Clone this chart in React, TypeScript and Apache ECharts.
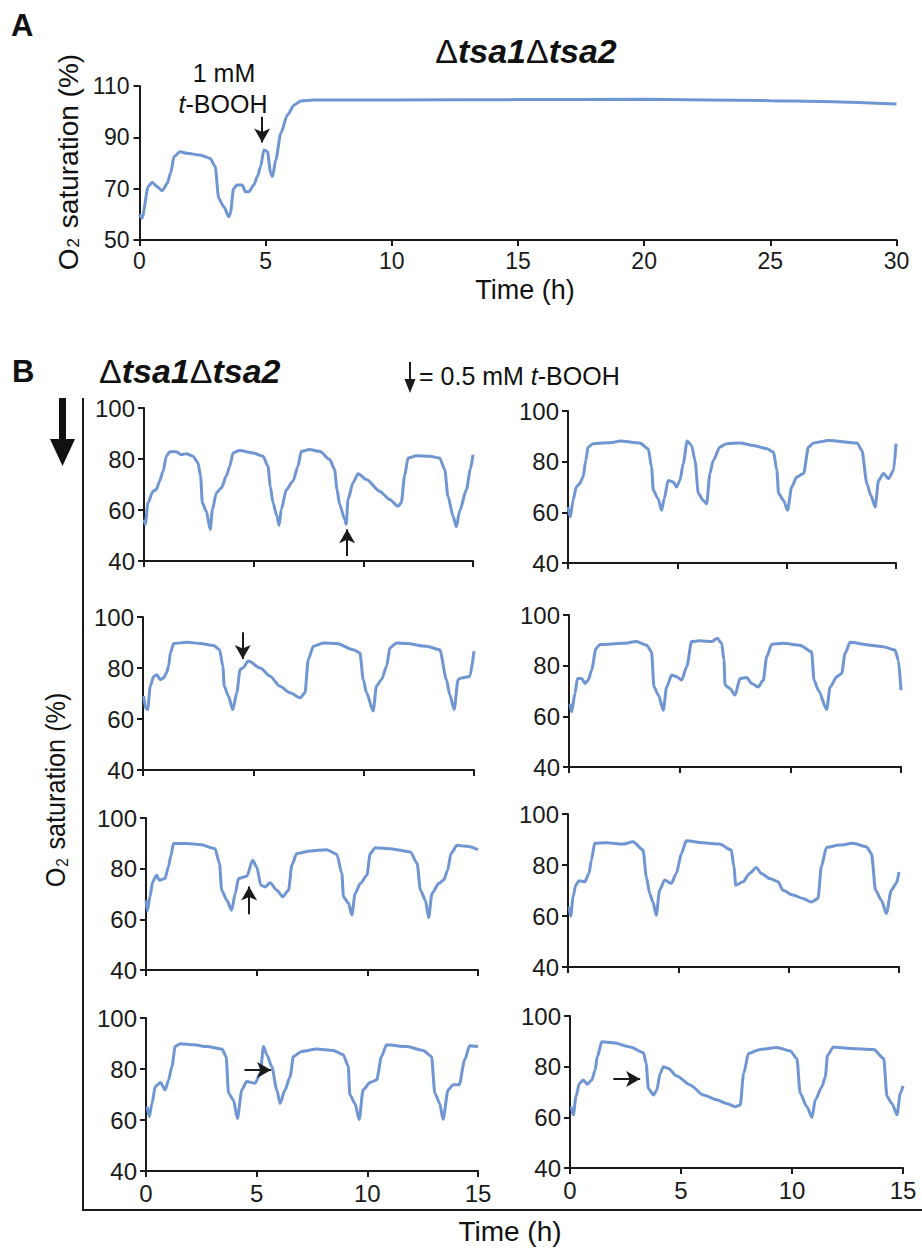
import React, { useEffect, useRef } from "react";
import * as echarts from "echarts";

// ---------- DATA ----------
// Panel A: Δtsa1Δtsa2, 1 mM t-BOOH (time h, O2 saturation %)
const traceA: number[][] = [
  [0, 60], [0.1, 58.5], [0.35, 70.8], [0.5, 72.5], [0.7, 70.8], [0.9, 69.2], [1.1, 72], [1.23, 76],
  [1.37, 82.5], [1.6, 84.4], [1.87, 83.8], [2.4, 83.1], [2.8, 81.8], [3.0, 78.6], [3.14, 66.2],
  [3.34, 63], [3.54, 59.1], [3.6, 60.4], [3.73, 70.1], [3.87, 71.4], [4.07, 71.4], [4.2, 68.8],
  [4.33, 68.8], [4.53, 71.4], [4.67, 74.7], [4.8, 78.6], [4.93, 85.1], [5.07, 84.4], [5.2, 76],
  [5.27, 74.7], [5.4, 81.2], [5.6, 91.6], [5.86, 98.7], [6.13, 102.6], [6.4, 104.2], [6.9, 104.5],
  [10, 104.5], [15, 104.7], [20, 104.8], [25, 104.3], [27, 104], [30, 103],
];

// Panel B traces (0.5 mM t-BOOH additions)
const traceB1L: number[][] = [
  [0, 56.3], [0.06, 54.4], [0.18, 62.8], [0.41, 67.4], [0.56, 68], [0.71, 71.3], [0.87, 75.2], [1.02, 81.1],
  [1.17, 82.8], [1.47, 82.8], [1.7, 81.7], [1.93, 82.1], [2.23, 81.1], [2.46, 78.5], [2.58, 73.3],
  [2.66, 62.8], [2.84, 59.6], [3.02, 52.4], [3.12, 60.2], [3.3, 66.7], [3.53, 68.7], [3.75, 73.3],
  [3.91, 77.2], [4.06, 82.4], [4.36, 83.3], [4.97, 82.4], [5.43, 81.1], [5.65, 77.2], [5.76, 69.3],
  [5.88, 62.8], [6.06, 57.6], [6.16, 54], [6.26, 60.2], [6.49, 68], [6.79, 71.3], [7.02, 77.2],
  [7.17, 83], [7.55, 83.7], [8.01, 83], [8.47, 79.8], [8.69, 75.9], [8.8, 68], [8.92, 62.2],
  [9.15, 56.3], [9.22, 54.4], [9.3, 64.1], [9.53, 70.7], [9.76, 74.2], [10.14, 72], [10.74, 67.4],
  [11.2, 64.1], [11.58, 61.5], [11.73, 62.8], [11.88, 73.3], [12.04, 80.4], [12.42, 81.3], [13.02, 81.1],
  [13.48, 80.4], [13.71, 75.9], [13.86, 65.4], [14.09, 57.6], [14.24, 53.4], [14.39, 59.6], [14.7, 68],
  [14.88, 75.9], [15, 81.7],
];
const traceB1R: number[][] = [
  [0, 62.1], [0.11, 58.2], [0.23, 64.7], [0.38, 70], [0.53, 71.3], [0.69, 73.9], [0.81, 80.5], [0.92, 85.8],
  [1.15, 87.1], [2.06, 87.6], [2.37, 88.2], [3.28, 87.4], [3.67, 85.1], [3.82, 77.9], [3.9, 68.7],
  [4.12, 65.4], [4.28, 60.8], [4.4, 65.4], [4.58, 72.6], [4.81, 72], [4.96, 70], [5.12, 72.6],
  [5.27, 79.2], [5.45, 88.2], [5.65, 86.4], [5.81, 80.5], [5.96, 67.4], [6.19, 64.7], [6.34, 63.4],
  [6.49, 75.3], [6.64, 80.5], [6.95, 85.8], [7.26, 87.1], [7.87, 87.4], [8.48, 86.4], [9.1, 85.1],
  [9.4, 83.8], [9.55, 76.6], [9.63, 67.4], [9.86, 64.7], [10.04, 60.8], [10.23, 70], [10.46, 73.9],
  [10.77, 75.3], [11.0, 85.8], [11.23, 87.4], [11.92, 88.4], [13.22, 87.4], [13.44, 84.5], [13.67, 71.3],
  [13.85, 66.7], [14.05, 62.1], [14.2, 72.6], [14.43, 75.3], [14.66, 73.3], [14.89, 76.6], [15, 87.1],
];
const traceB2L: number[][] = [
  [0.03, 69], [0.11, 64.4], [0.21, 63.7], [0.33, 72.8], [0.48, 76.7], [0.63, 77.4], [0.78, 75.4],
  [0.93, 76.1], [1.06, 78], [1.16, 80.7], [1.24, 85.9], [1.39, 89.6], [1.99, 90.1], [2.59, 89.6],
  [3.2, 88.8], [3.47, 87.2], [3.62, 80.7], [3.68, 72.9], [3.87, 69], [4.07, 63.7], [4.25, 70.3],
  [4.4, 79.4], [4.52, 80], [4.78, 82.7], [5.31, 80], [5.76, 76.8], [6.21, 72.8], [6.66, 70.3],
  [7.12, 68.3], [7.34, 70.3], [7.49, 83.3], [7.72, 88.5], [8.17, 89.8], [8.78, 89.6], [9.53, 87.2],
  [9.83, 85.9], [9.98, 75.5], [10.13, 70.3], [10.43, 63.1], [10.58, 72.9], [10.81, 75.5], [11.04, 80.7],
  [11.19, 87.9], [11.49, 89.8], [11.94, 89.6], [12.85, 88.5], [13.45, 87.2], [13.75, 75.5], [13.9, 69.6],
  [14.1, 63.7], [14.28, 75.5], [14.43, 76.1], [14.81, 76.7], [15, 86.6],
];
const traceB2R: number[][] = [
  [0.05, 65], [0.12, 61.8], [0.27, 69], [0.38, 74.9], [0.57, 74.9], [0.72, 73], [0.87, 74.3], [1.02, 78.2],
  [1.22, 86.8], [1.4, 88.4], [2.45, 88.8], [3.05, 89.5], [3.51, 88.1], [3.73, 85.5], [3.84, 71.6],
  [4.04, 68.4], [4.26, 62.4], [4.41, 71.6], [4.64, 76.3], [4.86, 75.6], [5.09, 74.3], [5.32, 79.6],
  [5.54, 89.5], [5.92, 89.8], [6.45, 89.5], [6.7, 90.8], [6.9, 88.8], [7.0, 82.2], [7.05, 72.3],
  [7.27, 71], [7.5, 68.4], [7.73, 74.9], [8.03, 75.3], [8.25, 73], [8.55, 71.6], [8.78, 74.3],
  [8.93, 83.5], [9.16, 88.5], [9.68, 88.8], [10.44, 88.1], [10.96, 85.5], [11.07, 74.3], [11.27, 70.3],
  [11.64, 62.7], [11.8, 71.6], [12.1, 75.6], [12.32, 76.9], [12.47, 84.8], [12.7, 89.2], [13.6, 88.1],
  [14.2, 87.5], [14.73, 86.2], [14.88, 82.2], [15, 70.3],
];
const traceB3L: number[][] = [
  [0, 67.6], [0.06, 63.4], [0.18, 68.9], [0.3, 74.8], [0.48, 77.4], [0.6, 75.4], [0.86, 76.1], [1.01, 80.7],
  [1.13, 85.3], [1.24, 89.9], [1.84, 89.9], [2.44, 89.5], [3.12, 87.9], [3.32, 82], [3.42, 71.5],
  [3.65, 67.6], [3.87, 63.6], [4.03, 70.2], [4.18, 76.1], [4.55, 77], [4.82, 83.3], [5.0, 80.7],
  [5.19, 73.5], [5.38, 72.8], [5.61, 74.4], [5.91, 71.5], [6.18, 68.9], [6.44, 71.5], [6.59, 81.4],
  [6.81, 86], [7.42, 87], [8.17, 87.5], [8.62, 85.7], [8.85, 78.1], [8.92, 68.9], [9.15, 66.3],
  [9.3, 61.7], [9.45, 70.2], [9.68, 74.1], [9.98, 77.4], [10.13, 86], [10.36, 88.3], [11.04, 87.9],
  [11.95, 86.6], [12.25, 82], [12.4, 71.5], [12.62, 67.6], [12.77, 60.7], [12.92, 70.2], [13.22, 74.1],
  [13.45, 75.5], [13.63, 79.4], [13.78, 86], [14.05, 89.2], [14.5, 88.8], [15, 87.5],
];
const traceB3R: number[][] = [
  [0.05, 63.6], [0.12, 59.9], [0.23, 67.5], [0.35, 72.1], [0.5, 73.8], [0.76, 73.4], [0.95, 76.7],
  [1.06, 81.9], [1.21, 88.5], [1.74, 88.7], [2.49, 88.2], [2.95, 89.1], [3.4, 85.9], [3.55, 75.4],
  [3.7, 68.8], [3.85, 65.5], [4.0, 60.3], [4.15, 70.1], [4.38, 74.1], [4.68, 72.8], [4.91, 76.7],
  [5.14, 84.5], [5.36, 89.5], [6.12, 88.7], [6.87, 88.2], [7.4, 85.9], [7.52, 79.3], [7.6, 72.1],
  [7.93, 73.4], [8.23, 76.7], [8.53, 79], [8.76, 76.7], [9.14, 74.7], [9.52, 73.4], [9.74, 70.1],
  [10.2, 68.2], [10.65, 66.9], [11.03, 65.5], [11.33, 66.9], [11.48, 79.3], [11.71, 86.9], [12.31, 87.8],
  [12.92, 88.5], [13.52, 87.2], [13.75, 84.5], [13.94, 70.1], [14.2, 66.2], [14.43, 61], [14.65, 70.1],
  [14.88, 72.8], [15, 77.3],
];
const traceB4L: number[][] = [
  [0.05, 65.2], [0.15, 61.3], [0.27, 66.5], [0.42, 73.1], [0.65, 74.7], [0.87, 71.8], [1.02, 75.7],
  [1.17, 81], [1.32, 88.8], [1.55, 89.9], [2.15, 89.5], [2.75, 88.8], [3.43, 87.8], [3.62, 84.9],
  [3.73, 70.5], [3.95, 67.8], [4.13, 60.6], [4.33, 71.8], [4.55, 75.1], [4.93, 74.4], [5.16, 78.3],
  [5.31, 88.8], [5.46, 85.6], [5.68, 81], [5.91, 71.8], [6.06, 66.5], [6.28, 71.8], [6.51, 77],
  [6.66, 84.9], [7.03, 86.9], [7.71, 87.8], [8.46, 87.3], [8.91, 85.6], [9.14, 81], [9.21, 69.9],
  [9.44, 66.5], [9.63, 60.2], [9.81, 71.8], [10.12, 74.7], [10.42, 75.7], [10.64, 84.9], [10.87, 89.5],
  [11.77, 88.8], [12.52, 87.3], [12.9, 84.9], [13.05, 70.5], [13.27, 66.5], [13.42, 60.3], [13.65, 71.8],
  [13.88, 73.8], [14.15, 73.8], [14.4, 83.6], [14.62, 89.1], [15, 88.8],
];
const traceB4R: number[][] = [
  [0.05, 64.2], [0.15, 61], [0.27, 68.2], [0.42, 73.4], [0.6, 74.7], [0.78, 73.1], [0.98, 74.7],
  [1.13, 78.6], [1.23, 83.9], [1.43, 89.8], [1.95, 89.4], [2.71, 87.8], [3.31, 85.5], [3.43, 81.3],
  [3.53, 71.4], [3.76, 68.8], [3.91, 70.8], [4.06, 77.3], [4.21, 80], [4.43, 79.3], [4.81, 76.3],
  [5.41, 72.8], [6.01, 68.8], [6.61, 66.9], [7.06, 65.5], [7.44, 64.2], [7.67, 64.9], [7.82, 77.3],
  [8.04, 85.2], [8.57, 86.8], [9.32, 87.6], [9.92, 86.2], [10.22, 83.2], [10.37, 69.5], [10.67, 64.2],
  [10.9, 60], [11.05, 66.9], [11.35, 72.1], [11.5, 76], [11.6, 84.5], [11.87, 87.8], [12.63, 87.2],
  [13.68, 86.8], [14.13, 83.2], [14.28, 68.2], [14.5, 65.5], [14.73, 61], [14.88, 69.5], [15, 72.4],
];

// Addition arrows, in data coordinates: [t1, v1, t2, v2] (tail -> head)
const arrowA = [4.86, 98, 4.86, 88];
const arrowsB: number[][] = [
  [9.26, 42, 9.26, 52.5],
  [5.45, 101.5, 5.45, 90.5],
  [4.52, 94, 4.52, 83.5],
  [6.67, 104, 6.67, 93.5],
  [4.66, 62, 4.66, 73],
  [7.36, 101, 7.36, 90],
  [4.45, 79.6, 5.65, 79.6],
  [1.95, 75.1, 3.16, 75.1],
];

const ticksA_y = [50, 70, 90, 110];

// ---------- LAYOUT ----------
const gridA = { left: 139.5, top: 86, width: 757, height: 154 };
const gridsB = [
  { left: 144, top: 408, width: 329, height: 153 },
  { left: 568, top: 411, width: 328, height: 152 },
  { left: 143, top: 617, width: 331, height: 153 },
  { left: 569, top: 615, width: 332, height: 152 },
  { left: 146, top: 818, width: 332, height: 152 },
  { left: 568, top: 814, width: 331, height: 153 },
  { left: 146, top: 1018, width: 332, height: 153 },
  { left: 570, top: 1016, width: 333, height: 152 },
];
const tracesB = [traceB1L, traceB1R, traceB2L, traceB2R, traceB3L, traceB3R, traceB4L, traceB4R];

const LINE = "#6f96d2";
const INK = "#1a1a1a";
const FONT = "'Liberation Sans', Arial, Helvetica, sans-serif";

function axisCommon(labelsShown: boolean, fontSize: number) {
  return {
    axisLine: { show: true, onZero: false, lineStyle: { color: INK, width: 2 } },
    axisTick: { show: true, inside: false, length: 6, lineStyle: { color: INK, width: 2 } },
    axisLabel: { show: labelsShown, color: INK, fontSize, fontFamily: FONT, margin: 9, lineHeight: fontSize },
    splitLine: { show: false },
  };
}

function arrowMark(a: number[]) {
  return {
    silent: true,
    symbol: ["none", "arrow"],
    symbolSize: [12, 14],
    lineStyle: { color: INK, width: 2, type: "solid" },
    label: { show: false },
    emphasis: { disabled: true },
    data: [[{ coord: [a[0], a[1]] }, { coord: [a[2], a[3]] }]],
  };
}

const titleRich = {
  d: { fontSize: 34, fontFamily: FONT, fill: "#111" },
  t: { fontSize: 34, fontFamily: FONT, fontWeight: "bold", fontStyle: "italic", fill: "#111" },
};
const o2Rich = {
  a: { fontSize: 28, fontFamily: FONT, fill: "#111", verticalAlign: "bottom", lineHeight: 30 },
  s: { fontSize: 17, fontFamily: FONT, fill: "#111", verticalAlign: "bottom", lineHeight: 14, padding: [0, 2, 0, 1] },
};

export default function App() {
  const ref = useRef<HTMLDivElement>(null);
  useEffect(() => {
    if (!ref.current) return;
    const chart = echarts.init(ref.current, null, { renderer: "svg" });

    const grids: any[] = [gridA, ...gridsB];
    const xAxes: any[] = [];
    const yAxes: any[] = [];
    const series: any[] = [];

    const lineCommon = {
      type: "line", showSymbol: false, clip: false, smooth: 0.25, smoothMonotone: "x",
      lineStyle: { color: LINE, width: 3 }, itemStyle: { color: LINE },
    };

    const ax = axisCommon(true, 23);
    xAxes.push({
      type: "value", gridIndex: 0, min: 0, max: 30, interval: 5,
      ...ax,
      axisLabel: { ...ax.axisLabel, margin: 9 },
    });
    yAxes.push({
      type: "value", gridIndex: 0, min: 50, max: 110,
      ...ax,
      axisTick: { ...ax.axisTick, customValues: ticksA_y },
      axisLabel: { ...ax.axisLabel, customValues: ticksA_y, margin: 10 },
    });
    series.push({
      ...lineCommon, xAxisIndex: 0, yAxisIndex: 0, data: traceA,
      markLine: arrowMark(arrowA),
    });

    gridsB.forEach((g, i) => {
      const idx = i + 1;
      const bottomRow = i >= 6;
      const a = axisCommon(true, 24);
      xAxes.push({
        type: "value", gridIndex: idx, min: 0, max: 15, interval: 5,
        ...a,
        axisLabel: { ...a.axisLabel, show: bottomRow, margin: 10 },
      });
      yAxes.push({
        type: "value", gridIndex: idx, min: 40, max: 100, interval: 20,
        ...a,
        axisLabel: { ...a.axisLabel, margin: 9 },
      });
      series.push({
        ...lineCommon, xAxisIndex: idx, yAxisIndex: idx, data: tracesB[i],
        markLine: arrowMark(arrowsB[i]),
      });
    });

    const graphic: any[] = [
      { type: "text", x: 11, y: 25, style: { text: "A", font: `bold 31px ${FONT}`, fill: "#111", verticalAlign: "middle" } },
      { type: "text", x: 12, y: 371, style: { text: "B", font: `bold 31px ${FONT}`, fill: "#111", verticalAlign: "middle" } },
      {
        type: "text", x: 526, y: 51,
        style: { text: "{d|Δ}{t|tsa1}{d|Δ}{t|tsa2}", align: "center", verticalAlign: "middle", rich: titleRich },
      },
      {
        type: "text", x: 99, y: 371,
        style: { text: "{d|Δ}{t|tsa1}{d|Δ}{t|tsa2}", align: "left", verticalAlign: "middle", rich: titleRich },
      },
      { type: "text", x: 224, y: 73, style: { text: "1 mM", font: `25px ${FONT}`, fill: "#111", align: "center", verticalAlign: "middle" } },
      {
        type: "text", x: 223, y: 104,
        style: {
          text: "{i|t}{n|-BOOH}", align: "center", verticalAlign: "middle",
          rich: {
            i: { fontSize: 25, fontFamily: FONT, fontStyle: "italic", fill: "#111" },
            n: { fontSize: 25, fontFamily: FONT, fill: "#111" },
          },
        },
      },
      // legend arrow + text
      { type: "line", shape: { x1: 410, y1: 362, x2: 410, y2: 382 }, style: { stroke: INK, lineWidth: 2 } },
      { type: "polygon", shape: { points: [[404.5, 379], [415.5, 379], [410, 393]] }, style: { fill: INK } },
      {
        type: "text", x: 419, y: 376,
        style: {
          text: "{n|= 0.5 mM }{i|t}{n|-BOOH}", align: "left", verticalAlign: "middle",
          rich: {
            i: { fontSize: 25, fontFamily: FONT, fontStyle: "italic", fill: "#111" },
            n: { fontSize: 25, fontFamily: FONT, fill: "#111" },
          },
        },
      },
      // big arrow
      { type: "rect", shape: { x: 59, y: 398, width: 7, height: 44 }, style: { fill: "#111" } },
      { type: "polygon", shape: { points: [[50, 439], [75, 439], [62.5, 466]] }, style: { fill: "#111" } },
      // frame
      { type: "line", shape: { x1: 83, y1: 398, x2: 83, y2: 1211 }, style: { stroke: INK, lineWidth: 2 } },
      { type: "line", shape: { x1: 82, y1: 1210, x2: 922, y2: 1210 }, style: { stroke: INK, lineWidth: 2 } },
      // axis titles
      {
        type: "text", x: 67, y: 162, rotation: Math.PI / 2,
        style: { text: "{a|O}{s|2}{a| saturation (%)}", align: "center", verticalAlign: "middle", rich: o2Rich },
      },
      {
        type: "text", x: 55, y: 790, rotation: Math.PI / 2, scaleX: 0.9,
        style: { text: "{a|O}{s|2}{a| saturation (%)}", align: "center", verticalAlign: "middle", rich: o2Rich },
      },
      { type: "text", x: 525, y: 290, style: { text: "Time (h)", font: `27px ${FONT}`, fill: "#111", align: "center", verticalAlign: "middle" } },
      { type: "text", x: 510, y: 1231, style: { text: "Time (h)", font: `28px ${FONT}`, fill: "#111", align: "center", verticalAlign: "middle" } },
    ];

    chart.setOption({
      animation: false,
      backgroundColor: "#ffffff",
      textStyle: { fontFamily: FONT },
      grid: grids.map((g) => ({ ...g, containLabel: false })),
      xAxis: xAxes,
      yAxis: yAxes,
      series,
      graphic,
    });
    return () => chart.dispose();
  }, []);
  return (
    <div
      ref={ref}
      style={{ position: "absolute", left: 0, top: 0, width: 922, height: 1250, background: "#fff" }}
    />
  );
}
